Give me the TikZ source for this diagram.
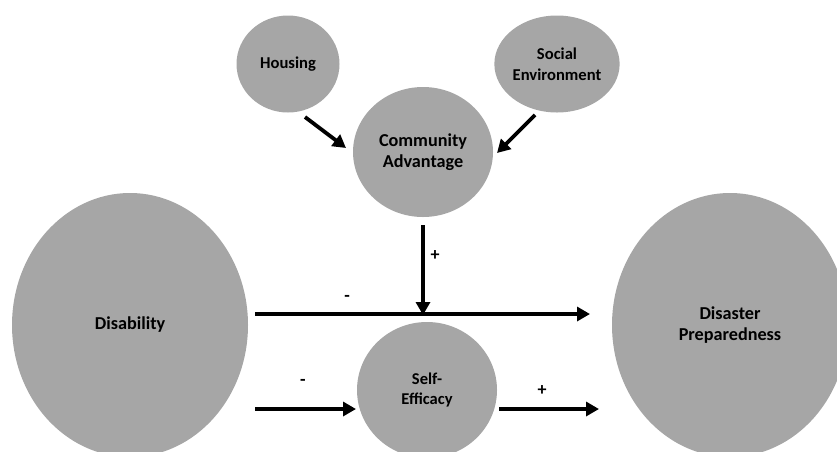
\documentclass[tikz,border=0pt]{standalone}
\usepackage{fontspec}
\setmainfont{Carlito}
\usetikzlibrary{shapes.geometric,arrows.meta}
\definecolor{bubble}{RGB}{166,166,166}
\begin{document}
\begin{tikzpicture}[x=1pt,y=-1pt,
  bubble/.style={ellipse,fill=bubble,inner sep=0pt,align=center,font=\bfseries},
  small/.style={font=\fontsize{16.6}{21}\selectfont\bfseries},
  large/.style={font=\fontsize{18.2}{21.5}\selectfont\bfseries},
  link/.style={line width=3.8pt,-{Triangle[length=13pt,width=14pt]}},
  sign/.style={font=\fontsize{18}{20}\selectfont\bfseries,inner sep=0pt}]
\useasboundingbox (0,0) rectangle (837,451);

% factors
\node[bubble,small,minimum width=103pt,minimum height=97pt] (housing) at (288,64) {Housing};
\node[bubble,small,minimum width=104pt,minimum height=97pt] (social) at (557,64) {Social\\Environment};
\node[bubble,large,minimum width=140pt,minimum height=130pt] (community) at (423,152) {Community\\Advantage};
\node[bubble,large,minimum width=236pt,minimum height=264pt] (disability) at (130,325) {Disability};
\node[bubble,large,minimum width=236pt,minimum height=264pt] (prep) at (730,325) {Disaster\\Preparedness};
\node[bubble,font=\fontsize{16.5}{20}\selectfont\bfseries,minimum width=140pt,minimum height=136pt] (efficacy) at (427,390) {Self-\\Efficacy};

% arrow end points
\coordinate (hs) at (305,117);
\coordinate (he) at (346,148);
\coordinate (ss) at (535,115);
\coordinate (se) at (497,153);
\coordinate (cs) at (423,225);
\coordinate (ce) at (423,315);
\coordinate (ds) at (255,314);
\coordinate (de) at (590,314);
\coordinate (es) at (255,409);
\coordinate (ee) at (356,409);
\coordinate (fs) at (499,409);
\coordinate (fe) at (599,409);

% connectors
\draw[link] (hs) -- (he);
\draw[link] (ss) -- (se);
\draw[link] (ds) -- (de);
\draw[link] (cs) -- (ce);
\draw[link] (es) -- (ee);
\draw[link] (fs) -- (fe);

% signs
\node[sign] (p1) at (435,256) {+};
\node[sign] (m1) at (347,298) {-};
\node[sign] (m2) at (303,382) {-};
\node[sign] (p2) at (542,391) {+};
\end{tikzpicture}
\end{document}
